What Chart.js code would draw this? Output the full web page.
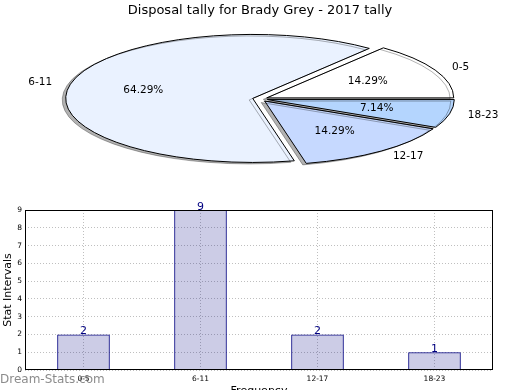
<!DOCTYPE html>
<html>
<head>
<meta charset="utf-8">
<script src="https://cdn.jsdelivr.net/npm/chart.js@4/dist/chart.umd.min.js"></script>
<style>
  html, body { margin: 0; padding: 0; background: #fff; width: 520px; height: 390px; overflow: hidden; }
  #pie { position: absolute; left: 0; top: 0; }
  #bars { position: absolute; left: 0; top: 200px; }
  #mark {
    position: absolute; left: 0; top: 372px; line-height: 14px;
    font: 12px "DejaVu Sans", sans-serif; color: rgba(110, 110, 110, 0.8);
  }
</style>
</head>
<body>
<canvas id="pie" width="520" height="200"></canvas>
<canvas id="bars" width="520" height="200"></canvas>
<div id="mark">Dream-Stats.com</div>
<script>
// data
const title = "Disposal tally for Brady Grey - 2017 tally";
const categories = ["0-5", "6-11", "12-17", "18-23"];
const counts = [2, 9, 2, 1];
const pieColours = ["#ffffff", "#eaf2ff", "#c6d9ff", "#b4d5fe"];

const FONT = "'DejaVu Sans', sans-serif";
const SQUASH = 64 / 187;   // pie is drawn as an ellipse
const EXPLODE = 0.04;

// draws the arcs squashed + mirrored (so slices run anticlockwise), exploded, with shadow
const ellipsePie = {
  id: "ellipsePie",
  beforeDatasetsDraw(chart) {
    const ctx = chart.ctx;
    const arcs = chart.getDatasetMeta(0).data;
    const base = ctx.getTransform();
    const nativeStroke = CanvasRenderingContext2D.prototype.stroke;
    // stroke with the plain transform so outlines keep an even width
    ctx.stroke = function (...args) {
      const t = this.getTransform();
      this.setTransform(base);
      nativeStroke.apply(this, args);
      this.setTransform(t);
    };
    arcs.forEach(arc => {
      const mid = (arc.startAngle + arc.endAngle) / 2;
      const d = EXPLODE * arc.outerRadius;
      ctx.save();
      ctx.shadowColor = "rgba(0,0,0,0.3)";
      ctx.shadowOffsetX = -3.5;
      ctx.shadowOffsetY = 1.5;
      ctx.shadowBlur = 0;
      ctx.translate(arc.x, arc.y);
      ctx.scale(-1, SQUASH);
      ctx.translate(-arc.x, -arc.y);
      ctx.translate(Math.cos(mid) * d, Math.sin(mid) * d);
      arc.draw(ctx);
      ctx.restore();
    });
    delete ctx.stroke;

    // labels
    const total = counts.reduce((a, b) => a + b, 0);
    ctx.save();
    ctx.fillStyle = "#000";
    ctx.font = "10.5px " + FONT;
    ctx.textBaseline = "middle";
    arcs.forEach((arc, i) => {
      const mid = (arc.startAngle + arc.endAngle) / 2;
      const r = arc.outerRadius;
      const ux = -Math.cos(mid), uy = Math.sin(mid) * SQUASH;
      ctx.textAlign = ux > 0 ? "left" : "right";
      ctx.fillText(categories[i], arc.x + ux * r * (1.1 + EXPLODE), arc.y + uy * r * (1.1 + EXPLODE));
      ctx.textAlign = "center";
      const pct = (counts[i] / total * 100).toFixed(2) + "%";
      ctx.fillText(pct, arc.x + ux * r * (0.6 + EXPLODE), arc.y + uy * r * (0.6 + EXPLODE));
    });
    ctx.restore();
    return false;
  }
};

new Chart(document.getElementById("pie"), {
  type: "pie",
  data: {
    labels: categories,
    datasets: [{
      data: counts,
      backgroundColor: pieColours,
      borderColor: "#000",
      borderWidth: 1,
      borderJoinStyle: "miter",
      clip: false
    }]
  },
  options: {
    responsive: false,
    animation: false,
    events: [],
    rotation: -90,
    radius: 187,
    layout: { padding: { top: 0, bottom: 24.6, left: 0, right: 0 } },
    plugins: {
      legend: { display: false },
      tooltip: { enabled: false },
      title: {
        display: true,
        text: title,
        color: "#000",
        font: { family: FONT, size: 13, weight: "normal" },
        padding: { top: 3, bottom: 4 }
      }
    }
  },
  plugins: [ellipsePie]
});

// bar value labels + axes frame
const barExtras = {
  id: "barExtras",
  afterDatasetsDraw(chart) {
    const ctx = chart.ctx;
    ctx.save();
    ctx.fillStyle = "#000080";
    ctx.font = "11px " + FONT;
    ctx.textAlign = "center";
    ctx.textBaseline = "alphabetic";
    chart.getDatasetMeta(0).data.forEach((bar, i) => {
      ctx.fillText(String(counts[i]), bar.x, bar.y);
    });
    ctx.restore();
  },
  afterDraw(chart) {
    const { ctx, chartArea: a } = chart;
    ctx.save();
    ctx.strokeStyle = "#000";
    ctx.lineWidth = 1;
    ctx.strokeRect(Math.round(a.left) + 0.5, Math.round(a.top) + 0.5,
      Math.round(a.right - a.left) - 1, Math.round(a.bottom - a.top) - 1);
    ctx.restore();
  }
};

new Chart(document.getElementById("bars"), {
  type: "bar",
  data: {
    labels: categories,
    datasets: [{
      data: counts,
      backgroundColor: "rgba(0,0,128,0.2)",
      borderColor: "#000080",
      borderWidth: 1,
      barPercentage: 0.45,
      categoryPercentage: 1
    }]
  },
  options: {
    responsive: false,
    animation: false,
    events: [],
    layout: { padding: { top: 10, right: 27, left: 0, bottom: 0 } },
    plugins: { legend: { display: false }, tooltip: { enabled: false } },
    scales: {
      x: {
        offset: true,
        afterFit: s => { s.height = 30; },
        grid: { offset: false, drawTicks: false, color: "rgba(0,0,0,0.25)", lineWidth: 1 },
        border: { display: false, dash: [1, 2] },
        ticks: { color: "#000", padding: 5, font: { family: FONT, size: 7.5 } },
        title: {
          display: true, text: "Frequency", color: "#000",
          font: { family: FONT, size: 11 }, padding: { top: 0, bottom: 2 }
        }
      },
      y: {
        min: 0,
        max: 9,
        afterFit: s => { s.width = 25; },
        grid: { drawTicks: false, color: "rgba(0,0,0,0.25)", lineWidth: 1 },
        border: { display: false, dash: [1, 2] },
        ticks: { stepSize: 1, color: "#000", padding: 3, font: { family: FONT, size: 7.5 } },
        title: {
          display: true, text: "Stat Intervals", color: "#000",
          font: { family: FONT, size: 11 }, padding: { top: 2, bottom: 0 }
        }
      }
    }
  },
  plugins: [barExtras]
});
</script>
</body>
</html>
